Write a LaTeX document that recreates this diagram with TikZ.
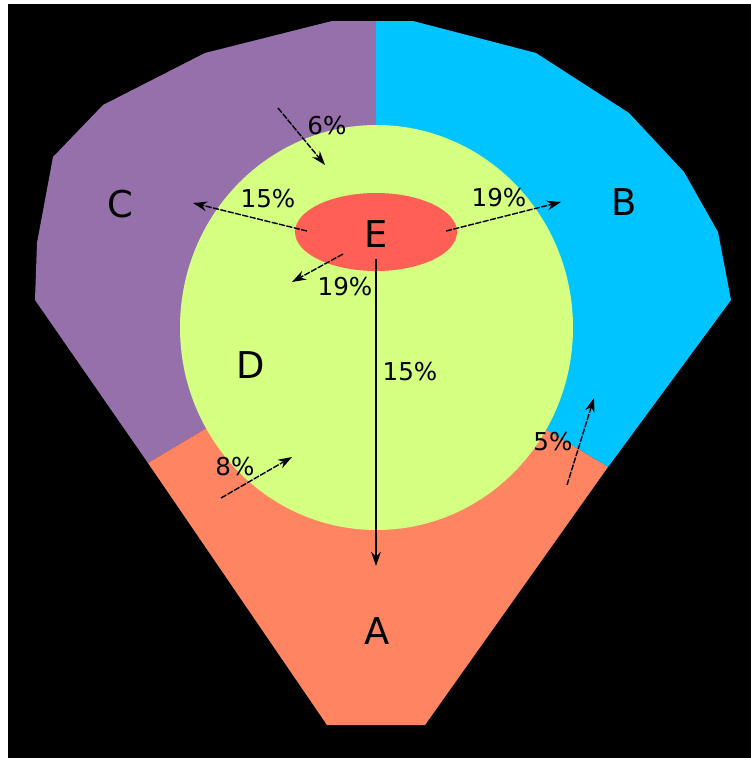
\documentclass[tikz,border=0pt]{standalone}
\usepackage{fontspec}
\setmainfont{DejaVu Sans}
\usetikzlibrary{arrows.meta}
\begin{document}
\begin{tikzpicture}[x=0.02cm, y=-0.02cm]

\definecolor{cA}{RGB}{255,133,98}
\definecolor{cB}{RGB}{0,196,255}
\definecolor{cC}{RGB}{150,112,170}
\definecolor{cD}{RGB}{212,255,128}
\definecolor{cE}{RGB}{255,95,85}

\tikzset{
  region/.style = {font=\fontsize{21}{25}\selectfont, inner sep=0pt},
  share/.style  = {font=\fontsize{14}{17}\selectfont, inner sep=0pt},
  flow/.style   = {-{Stealth[length=8pt,width=5.5pt]}, line width=0.8pt, dash pattern=on 3.5pt off 0.8pt},
}

\useasboundingbox (0,0) rectangle (751,758);
\fill[white] (0,0) rectangle (751,758);
\fill[black] (8,4) rectangle (751,758);

%% ---------- the regions ----------
\fill[cC] (376,21) -- (332,21) -- (205,53) -- (103,105) -- (53,157) -- (37,243)
  -- (35,300) -- (148,463) -- (376,327) -- cycle;
\fill[cB] (376,21) -- (413,21) -- (536,53) -- (629,113) -- (684,172) -- (718,232)
  -- (731,300) -- (608,467) -- (376,327) -- cycle;
\fill[cA] (148,463) -- (327,725) -- (425,725) -- (608,467) -- (376,327) -- cycle;
\fill[cD] (376.5,327.5) ellipse [x radius=196.5, y radius=202.5];
\fill[cE] (376,232) ellipse [x radius=81, y radius=39];

%% ---------- the names ----------
\node[region] (A) at (377,631) {A};
\node[region] (B) at (624,202) {B};
\node[region] (C) at (120,204) {C};
\node[region] (D) at (251,365) {D};
\node[region] (E) at (376,234) {E};

%% ---------- the shares ----------
\node[share] (pCD) at (327,126) {6\%};
\node[share] (pEC) at (268,199) {15\%};
\node[share] (pEB) at (499,198) {19\%};
\node[share] (pED) at (345,287) {19\%};
\node[share] (pEA) at (410,372) {15\%};
\node[share] (pAD) at (235,467) {8\%};
\node[share] (pAB) at (553,442) {5\%};

%% ---------- the flows ----------
\coordinate (cdS) at (278,108);  \coordinate (cdE) at (325,165);
\coordinate (ecS) at (307,231);  \coordinate (ecE) at (193,203);
\coordinate (ebS) at (446,231);  \coordinate (ebE) at (561,202);
\coordinate (edS) at (343,254);  \coordinate (edE) at (292,282);
\coordinate (eaS) at (376,259);  \coordinate (eaE) at (376,566);
\coordinate (adS) at (221,498);  \coordinate (adE) at (292,457);
\coordinate (abS) at (567,485);  \coordinate (abE) at (594,398);

\draw[flow] (cdS) -- (cdE);
\draw[flow] (ecS) -- (ecE);
\draw[flow] (ebS) -- (ebE);
\draw[flow] (edS) -- (edE);
\draw[flow, solid] (eaS) -- (eaE);
\draw[flow] (adS) -- (adE);
\draw[flow] (abS) -- (abE);

\end{tikzpicture}
\end{document}
